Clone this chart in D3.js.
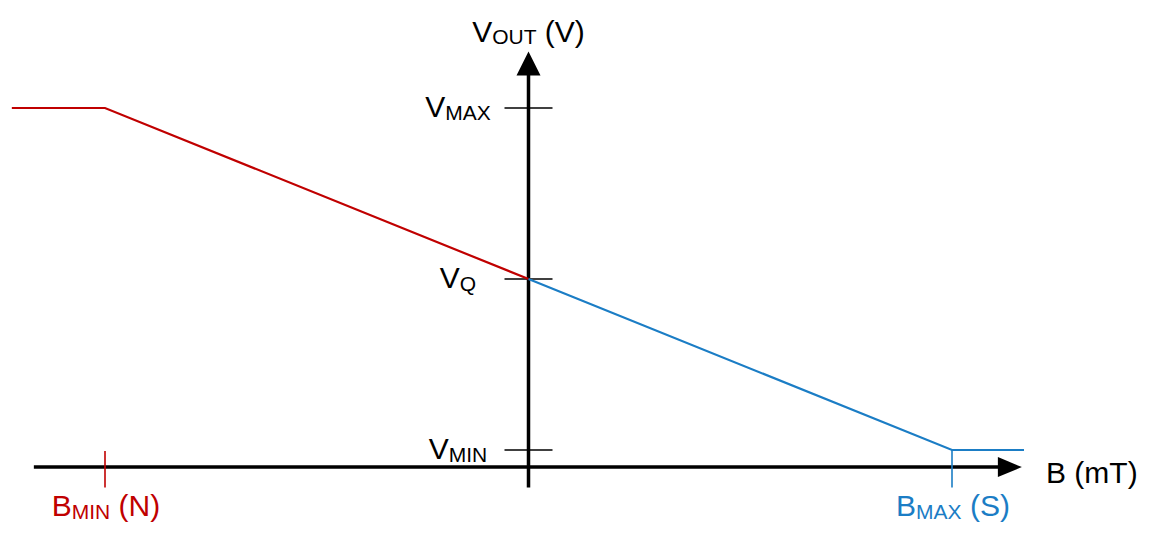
<!DOCTYPE html>
<html>
<head>
<meta charset="utf-8">
<script src="https://cdn.jsdelivr.net/npm/d3@7"></script>
<style>
  html, body { margin: 0; padding: 0; background: #fff; }
  svg { display: block; }
  text { font-family: "Liberation Sans", Arial, sans-serif; }
</style>
</head>
<body>
<svg id="chart" width="1151" height="533"></svg>
<script>
// ---- Data (normalised units) ----
const northB = [-1.22, -1, 0];          // B field (N side)
const northV = [1, 1, 0.5];             // Vout along N side
const southB = [0, 1, 1.17];            // B field (S side)
const southV = [0.5, 0, 0];             // Vout along S side
const yTickValues = [1, 0.5, 0];
const yTickMain = ["V", "V", "V"];
const yTickSub = ["MAX", "Q", "MIN"];
const xTickValues = [-1, 1];
const xTickMain = ["B", "B"];
const xTickSub = ["MIN", "MAX"];
const xTickTail = [" (N)", " (S)"];
const xAxisRange = [-1.168, 1.165];
const yAxisRange = [-0.11, 1.165];

const RED = "#c00000", BLUE = "#1b7dc5";
const FS = 30, FSUB = 21;

const svg = d3.select("#chart");
const x = d3.scaleLinear().domain([-1, 1]).range([105, 952]);
const y = d3.scaleLinear().domain([0, 1]).range([450, 108]);

const x0 = x(0), y0 = y(-0.05);

// X axis line + arrow
svg.append("line")
  .attr("x1", x(xAxisRange[0])).attr("x2", x(xAxisRange[1]) - 20)
  .attr("y1", y0).attr("y2", y0)
  .attr("stroke", "#000").attr("stroke-width", 3.5);
const xt = x(xAxisRange[1]);
svg.append("path")
  .attr("d", `M${xt},${y0} L${xt - 24},${y0 - 10} L${xt - 24},${y0 + 10} Z`)
  .attr("fill", "#000");

// Y axis line + arrow
const yt = y(yAxisRange[1]);
svg.append("line")
  .attr("x1", x0).attr("x2", x0)
  .attr("y1", y(yAxisRange[0])).attr("y2", yt + 20)
  .attr("stroke", "#000").attr("stroke-width", 3.5);
svg.append("path")
  .attr("d", `M${x0},${yt} L${x0 - 12},${yt + 24} L${x0 + 12},${yt + 24} Z`)
  .attr("fill", "#000");

// Y ticks
svg.selectAll(".ytick").data(yTickValues).enter().append("line")
  .attr("x1", x0 - 24).attr("x2", x0 + 24)
  .attr("y1", d => y(d)).attr("y2", d => y(d))
  .attr("stroke", "#000").attr("stroke-width", 1.6);

// Y tick labels
yTickValues.forEach((v, i) => {
  const t = svg.append("text")
    .attr("x", 458).attr("y", y(v) + 9)
    .attr("text-anchor", "middle").attr("font-size", FS).attr("fill", "#000");
  t.append("tspan").text(yTickMain[i]);
  t.append("tspan").attr("font-size", FSUB).attr("dy", 3).text(yTickSub[i]);
});

// Lines
const line = d3.line().x(d => x(d[0])).y(d => y(d[1]));
svg.append("path")
  .datum(northB.map((b, i) => [b, northV[i]]))
  .attr("d", line).attr("fill", "none")
  .attr("stroke", RED).attr("stroke-width", 2.2);
svg.append("path")
  .datum(southB.map((b, i) => [b, southV[i]]))
  .attr("d", line).attr("fill", "none")
  .attr("stroke", BLUE).attr("stroke-width", 2.2);

// X ticks
const xColors = [RED, BLUE];
xTickValues.forEach((v, i) => {
  svg.append("line")
    .attr("x1", x(v)).attr("x2", x(v))
    .attr("y1", i === 0 ? y(-0.003) : y(0)).attr("y2", y(-0.11))
    .attr("stroke", xColors[i]).attr("stroke-width", 1.6);
  const t = svg.append("text")
    .attr("x", x(v) + 1).attr("y", 516)
    .attr("text-anchor", "middle").attr("font-size", FS).attr("fill", xColors[i]);
  t.append("tspan").text(xTickMain[i]);
  t.append("tspan").attr("font-size", FSUB).attr("dy", 3).text(xTickSub[i]);
  t.append("tspan").attr("dy", -3).text(xTickTail[i]);
});

// Axis titles
const yTitle = svg.append("text")
  .attr("x", x0).attr("y", 42)
  .attr("text-anchor", "middle").attr("font-size", FS).attr("fill", "#000");
yTitle.append("tspan").text("V");
yTitle.append("tspan").attr("font-size", FSUB).attr("dy", 2).text("OUT");
yTitle.append("tspan").attr("dy", -2).text(" (V)");

svg.append("text")
  .attr("x", 1046).attr("y", 483)
  .attr("font-size", FS).attr("fill", "#000")
  .text("B (mT)");
</script>
</body>
</html>
